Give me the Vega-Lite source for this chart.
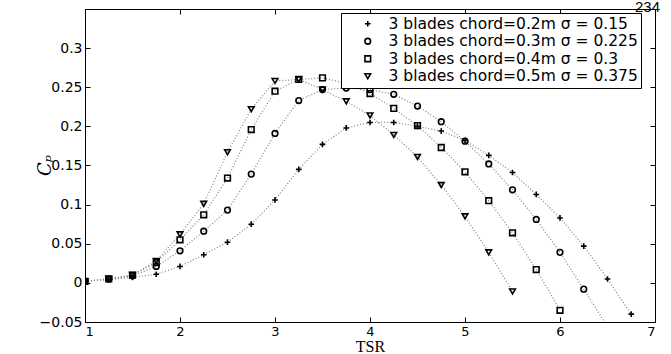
{
  "$schema": "https://vega.github.io/schema/vega-lite/v6.json",
  "width": 570,
  "height": 313,
  "autosize": "none",
  "padding": {"left": 85, "top": 9, "right": 16, "bottom": 32},
  "background": "white",
  "config": {
    "view": {"stroke": "black", "strokeWidth": 1},
    "axis": {"grid": false, "domainColor": "black", "tickColor": "black", "labelColor": "black", "labelFont": "DejaVu Sans", "labelFontSize": 14, "tickSize": -5}
  },
  "data": {"values": [
    {"series": "3 blades chord=0.2m σ = 0.15", "TSR": 1, "Cp": 0.002},
    {"series": "3 blades chord=0.2m σ = 0.15", "TSR": 1.25, "Cp": 0.004},
    {"series": "3 blades chord=0.2m σ = 0.15", "TSR": 1.5, "Cp": 0.007},
    {"series": "3 blades chord=0.2m σ = 0.15", "TSR": 1.75, "Cp": 0.011},
    {"series": "3 blades chord=0.2m σ = 0.15", "TSR": 2, "Cp": 0.021},
    {"series": "3 blades chord=0.2m σ = 0.15", "TSR": 2.25, "Cp": 0.036},
    {"series": "3 blades chord=0.2m σ = 0.15", "TSR": 2.5, "Cp": 0.052},
    {"series": "3 blades chord=0.2m σ = 0.15", "TSR": 2.75, "Cp": 0.075},
    {"series": "3 blades chord=0.2m σ = 0.15", "TSR": 3, "Cp": 0.106},
    {"series": "3 blades chord=0.2m σ = 0.15", "TSR": 3.25, "Cp": 0.145},
    {"series": "3 blades chord=0.2m σ = 0.15", "TSR": 3.5, "Cp": 0.177},
    {"series": "3 blades chord=0.2m σ = 0.15", "TSR": 3.75, "Cp": 0.198},
    {"series": "3 blades chord=0.2m σ = 0.15", "TSR": 4, "Cp": 0.205},
    {"series": "3 blades chord=0.2m σ = 0.15", "TSR": 4.25, "Cp": 0.205},
    {"series": "3 blades chord=0.2m σ = 0.15", "TSR": 4.5, "Cp": 0.200},
    {"series": "3 blades chord=0.2m σ = 0.15", "TSR": 4.75, "Cp": 0.194},
    {"series": "3 blades chord=0.2m σ = 0.15", "TSR": 5, "Cp": 0.182},
    {"series": "3 blades chord=0.2m σ = 0.15", "TSR": 5.25, "Cp": 0.163},
    {"series": "3 blades chord=0.2m σ = 0.15", "TSR": 5.5, "Cp": 0.141},
    {"series": "3 blades chord=0.2m σ = 0.15", "TSR": 5.75, "Cp": 0.113},
    {"series": "3 blades chord=0.2m σ = 0.15", "TSR": 6, "Cp": 0.083},
    {"series": "3 blades chord=0.2m σ = 0.15", "TSR": 6.25, "Cp": 0.047},
    {"series": "3 blades chord=0.2m σ = 0.15", "TSR": 6.5, "Cp": 0.005},
    {"series": "3 blades chord=0.2m σ = 0.15", "TSR": 6.75, "Cp": -0.040},
    {"series": "3 blades chord=0.3m σ = 0.225", "TSR": 1, "Cp": 0.002},
    {"series": "3 blades chord=0.3m σ = 0.225", "TSR": 1.25, "Cp": 0.005},
    {"series": "3 blades chord=0.3m σ = 0.225", "TSR": 1.5, "Cp": 0.009},
    {"series": "3 blades chord=0.3m σ = 0.225", "TSR": 1.75, "Cp": 0.021},
    {"series": "3 blades chord=0.3m σ = 0.225", "TSR": 2, "Cp": 0.041},
    {"series": "3 blades chord=0.3m σ = 0.225", "TSR": 2.25, "Cp": 0.066},
    {"series": "3 blades chord=0.3m σ = 0.225", "TSR": 2.5, "Cp": 0.093},
    {"series": "3 blades chord=0.3m σ = 0.225", "TSR": 2.75, "Cp": 0.139},
    {"series": "3 blades chord=0.3m σ = 0.225", "TSR": 3, "Cp": 0.191},
    {"series": "3 blades chord=0.3m σ = 0.225", "TSR": 3.25, "Cp": 0.233},
    {"series": "3 blades chord=0.3m σ = 0.225", "TSR": 3.5, "Cp": 0.247},
    {"series": "3 blades chord=0.3m σ = 0.225", "TSR": 3.75, "Cp": 0.249},
    {"series": "3 blades chord=0.3m σ = 0.225", "TSR": 4, "Cp": 0.247},
    {"series": "3 blades chord=0.3m σ = 0.225", "TSR": 4.25, "Cp": 0.241},
    {"series": "3 blades chord=0.3m σ = 0.225", "TSR": 4.5, "Cp": 0.226},
    {"series": "3 blades chord=0.3m σ = 0.225", "TSR": 4.75, "Cp": 0.206},
    {"series": "3 blades chord=0.3m σ = 0.225", "TSR": 5, "Cp": 0.181},
    {"series": "3 blades chord=0.3m σ = 0.225", "TSR": 5.25, "Cp": 0.152},
    {"series": "3 blades chord=0.3m σ = 0.225", "TSR": 5.5, "Cp": 0.119},
    {"series": "3 blades chord=0.3m σ = 0.225", "TSR": 5.75, "Cp": 0.081},
    {"series": "3 blades chord=0.3m σ = 0.225", "TSR": 6, "Cp": 0.039},
    {"series": "3 blades chord=0.3m σ = 0.225", "TSR": 6.25, "Cp": -0.008},
    {"series": "3 blades chord=0.3m σ = 0.225", "TSR": 6.5, "Cp": -0.056},
    {"series": "3 blades chord=0.4m σ = 0.3", "TSR": 1, "Cp": 0.002},
    {"series": "3 blades chord=0.4m σ = 0.3", "TSR": 1.25, "Cp": 0.005},
    {"series": "3 blades chord=0.4m σ = 0.3", "TSR": 1.5, "Cp": 0.010},
    {"series": "3 blades chord=0.4m σ = 0.3", "TSR": 1.75, "Cp": 0.026},
    {"series": "3 blades chord=0.4m σ = 0.3", "TSR": 2, "Cp": 0.055},
    {"series": "3 blades chord=0.4m σ = 0.3", "TSR": 2.25, "Cp": 0.087},
    {"series": "3 blades chord=0.4m σ = 0.3", "TSR": 2.5, "Cp": 0.134},
    {"series": "3 blades chord=0.4m σ = 0.3", "TSR": 2.75, "Cp": 0.196},
    {"series": "3 blades chord=0.4m σ = 0.3", "TSR": 3, "Cp": 0.245},
    {"series": "3 blades chord=0.4m σ = 0.3", "TSR": 3.25, "Cp": 0.260},
    {"series": "3 blades chord=0.4m σ = 0.3", "TSR": 3.5, "Cp": 0.262},
    {"series": "3 blades chord=0.4m σ = 0.3", "TSR": 3.75, "Cp": 0.255},
    {"series": "3 blades chord=0.4m σ = 0.3", "TSR": 4, "Cp": 0.242},
    {"series": "3 blades chord=0.4m σ = 0.3", "TSR": 4.25, "Cp": 0.223},
    {"series": "3 blades chord=0.4m σ = 0.3", "TSR": 4.5, "Cp": 0.201},
    {"series": "3 blades chord=0.4m σ = 0.3", "TSR": 4.75, "Cp": 0.173},
    {"series": "3 blades chord=0.4m σ = 0.3", "TSR": 5, "Cp": 0.142},
    {"series": "3 blades chord=0.4m σ = 0.3", "TSR": 5.25, "Cp": 0.105},
    {"series": "3 blades chord=0.4m σ = 0.3", "TSR": 5.5, "Cp": 0.064},
    {"series": "3 blades chord=0.4m σ = 0.3", "TSR": 5.75, "Cp": 0.017},
    {"series": "3 blades chord=0.4m σ = 0.3", "TSR": 6, "Cp": -0.035},
    {"series": "3 blades chord=0.5m σ = 0.375", "TSR": 1, "Cp": 0.002},
    {"series": "3 blades chord=0.5m σ = 0.375", "TSR": 1.25, "Cp": 0.005},
    {"series": "3 blades chord=0.5m σ = 0.375", "TSR": 1.5, "Cp": 0.010},
    {"series": "3 blades chord=0.5m σ = 0.375", "TSR": 1.75, "Cp": 0.028},
    {"series": "3 blades chord=0.5m σ = 0.375", "TSR": 2, "Cp": 0.062},
    {"series": "3 blades chord=0.5m σ = 0.375", "TSR": 2.25, "Cp": 0.101},
    {"series": "3 blades chord=0.5m σ = 0.375", "TSR": 2.5, "Cp": 0.167},
    {"series": "3 blades chord=0.5m σ = 0.375", "TSR": 2.75, "Cp": 0.222},
    {"series": "3 blades chord=0.5m σ = 0.375", "TSR": 3, "Cp": 0.258},
    {"series": "3 blades chord=0.5m σ = 0.375", "TSR": 3.25, "Cp": 0.260},
    {"series": "3 blades chord=0.5m σ = 0.375", "TSR": 3.5, "Cp": 0.247},
    {"series": "3 blades chord=0.5m σ = 0.375", "TSR": 3.75, "Cp": 0.232},
    {"series": "3 blades chord=0.5m σ = 0.375", "TSR": 4, "Cp": 0.214},
    {"series": "3 blades chord=0.5m σ = 0.375", "TSR": 4.25, "Cp": 0.189},
    {"series": "3 blades chord=0.5m σ = 0.375", "TSR": 4.5, "Cp": 0.161},
    {"series": "3 blades chord=0.5m σ = 0.375", "TSR": 4.75, "Cp": 0.125},
    {"series": "3 blades chord=0.5m σ = 0.375", "TSR": 5, "Cp": 0.085},
    {"series": "3 blades chord=0.5m σ = 0.375", "TSR": 5.25, "Cp": 0.039},
    {"series": "3 blades chord=0.5m σ = 0.375", "TSR": 5.5, "Cp": -0.011}
  ]},
  "layer": [
    {
      "mark": {"type": "line", "color": "#808080", "strokeDash": [1, 2], "strokeWidth": 1.2, "clip": true},
      "encoding": {
        "x": {"field": "TSR", "type": "quantitative", "scale": {"domain": [1, 7], "nice": false},
              "axis": {"orient": "bottom", "values": [1, 2, 3, 4, 5, 6, 7], "labelPadding": 8, "labelFontSize": 13, "title": "TSR", "titleFont": "Liberation Serif", "titleFontSize": 16, "titleFontWeight": "normal", "titleColor": "black", "titleBaseline": "alphabetic", "titleY": 29}},
        "y": {"field": "Cp", "type": "quantitative", "scale": {"domain": [-0.05, 0.35], "nice": false, "zero": false},
              "axis": {"orient": "left", "values": [-0.05, 0, 0.05, 0.1, 0.15, 0.2, 0.25, 0.3], "labelPadding": 8, "format": "~g", "title": "Cₚ", "titleFont": "DejaVu Serif", "titleFontStyle": "italic", "titleFontSize": 18, "titleFontWeight": "normal", "titleColor": "black", "titleX": -31, "titleY": 156}},
        "detail": {"field": "series"}
      }
    },
    {
      "mark": {"type": "point", "filled": false, "stroke": "black", "strokeWidth": 1.6, "size": 32, "clip": true, "opacity": 1},
      "encoding": {
        "x": {"field": "TSR", "type": "quantitative", "axis": null},
        "y": {"field": "Cp", "type": "quantitative", "axis": null},
        "shape": {"field": "series", "type": "nominal",
          "scale": {"domain": ["3 blades chord=0.2m σ = 0.15", "3 blades chord=0.3m σ = 0.225", "3 blades chord=0.4m σ = 0.3", "3 blades chord=0.5m σ = 0.375"],
                    "range": ["M-1,0L1,0M0,-1L0,1", "circle", "square", "triangle-down"]},
          "legend": {"orient": "none", "legendX": 256, "legendY": 4, "title": null, "fillColor": "white", "strokeColor": "black", "padding": 3,
                     "labelFont": "DejaVu Sans", "labelFontSize": 15.5, "labelColor": "black", "labelLimit": 400,
                     "symbolStrokeColor": "black", "symbolStrokeWidth": 1.6, "symbolSize": 32, "symbolFillColor": "transparent",
                     "rowPadding": 0.5, "symbolOffset": 16, "labelOffset": 13}}
      }
    },
    {
      "mark": {"type": "point", "opacity": 0},
      "encoding": {
        "x": {"field": "TSR", "type": "quantitative", "axis": {"orient": "top", "values": [1, 2, 3, 4, 5, 6, 7], "labels": false, "title": null}},
        "y": {"field": "Cp", "type": "quantitative", "axis": {"orient": "right", "values": [-0.05, 0, 0.05, 0.1, 0.15, 0.2, 0.25, 0.3], "labels": false, "title": null}}
      }
    },
    {
      "data": {"values": [{"page": "234", "TSR": 7, "Cp": 0.35}]},
      "mark": {"type": "text", "align": "right", "baseline": "alphabetic", "font": "Liberation Sans", "fontSize": 15, "color": "black", "dx": 5, "dy": 3, "clip": false},
      "encoding": {
        "text": {"field": "page", "type": "nominal"},
        "x": {"field": "TSR", "type": "quantitative", "axis": null},
        "y": {"field": "Cp", "type": "quantitative", "axis": null}
      }
    }
  ],
  "resolve": {"axis": {"x": "independent", "y": "independent"}}
}
